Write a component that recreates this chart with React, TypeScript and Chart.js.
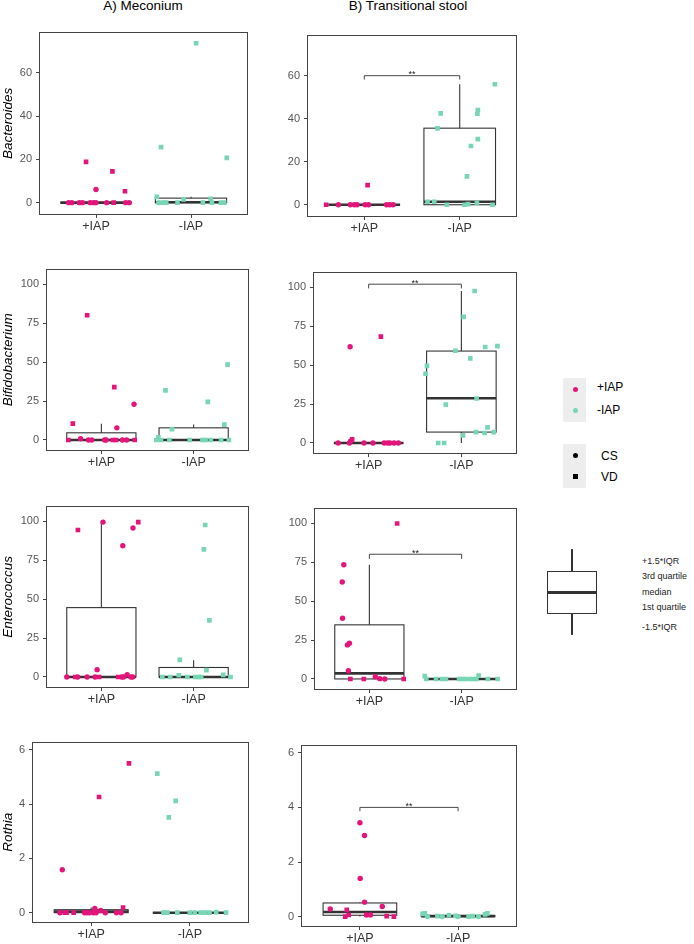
import React, { useEffect, useRef } from "react";
import { Chart, registerables } from "chart.js";
Chart.register(...registerables);

type Pt = [number, number, string];
type Box = [number, number, number, number, number];

const FONT = "'Liberation Sans', Arial, Helvetica, sans-serif";
Chart.defaults.font.family = FONT;

const PINK = "#E3157A";
const TEAL = "#78D6B4";
const LINE = "#333333";
const BOX_HALF = 0.375;

const groupLabels = ["+IAP", "-IAP"];
const columnTitles = ["A) Meconium", "B) Transitional stool"];
const taxa = ["Bacteroides", "Bifidobacterium", "Enterococcus", "Rothia"];

const ticksRow1 = [0, 20, 40, 60];
const ticksRow23 = [0, 25, 50, 75, 100];
const ticksRow4 = [0, 2, 4, 6];

// [jitter offset from group centre, value, shape c=CS s=VD]
const bacMecPlus: Pt[] = [
  [-0.105, 18.9, "s"], [0.173, 14.5, "s"], [0, 6.1, "c"], [0.305, 5.3, "s"],
  [-0.288, 0, "c"], [-0.254, 0, "c"], [-0.176, 0, "c"], [-0.142, 0, "c"], [-0.061, 0, "c"],
  [-0.027, 0, "c"], [0, 0, "c"], [0.112, 0, "c"], [0.186, 0, "s"], [0.312, 0, "c"], [0.349, 0, "c"],
];
const bacMecMinus: Pt[] = [
  [0.054, 73.7, "s"], [-0.315, 25.7, "s"], [0.376, 20.7, "s"], [-0.36, 2.7, "s"], [-0.078, 1.5, "s"],
  [0.207, 1.8, "s"], [-0.339, 0, "c"], [-0.295, 0, "s"], [-0.261, 0, "s"], [-0.142, 0, "s"],
  [0.125, 0, "s"], [0.22, 0, "s"], [0.315, 0, "s"], [0.349, 0, "s"],
];
const bacMecPlusBox: Box = [0, 0, 0, 0, 0];
const bacMecMinusBox: Box = [0, 0, 0.2, 2.1, 2.7];

const bacTransPlus: Pt[] = [
  [0.035, 9.1, "s"], [-0.399, 0, "s"], [-0.271, 0, "c"], [-0.146, 0, "c"], [-0.104, 0, "c"],
  [-0.076, 0, "c"], [0.01, 0, "c"], [0.045, 0, "c"], [0.233, 0, "c"], [0.267, 0, "c"], [0.302, 0, "c"],
];
const bacTransMinus: Pt[] = [
  [0.368, 56, "s"], [-0.2, 42.5, "s"], [0.19, 44, "s"], [0.185, 42.3, "s"], [-0.233, 35.5, "s"],
  [0.19, 30.5, "s"], [0.118, 27.3, "s"], [0.076, 13.2, "s"], [-0.337, 1.4, "s"], [-0.267, 1.4, "s"],
  [-0.135, 0, "s"], [0.05, 0, "s"], [0.087, 0.3, "s"], [0.18, 0.9, "s"], [0.344, 0, "s"],
];
const bacTransPlusBox: Box = [0, 0, 0, 0, 0];
const bacTransMinusBox: Box = [0, 0, 1.4, 35.6, 56];
const bacTransBracket = [60, 58.2];

const bifMecPlus: Pt[] = [
  [-0.154, 80.2, "s"], [0.14, 34, "s"], [0.354, 23, "c"], [-0.309, 10.5, "s"], [0.168, 7.8, "c"],
  [-0.225, 0.8, "c"], [-0.358, 0, "s"], [-0.14, 0, "c"], [-0.105, 0, "c"], [0.035, 0, "c"],
  [0.053, 0, "c"], [0.123, 0, "s"], [0.158, 0, "s"], [0.228, 0, "c"], [0.274, 0, "c"], [0.361, 0, "s"],
];
const bifMecMinus: Pt[] = [
  [0.368, 48.5, "s"], [-0.305, 31.9, "s"], [0.154, 24.5, "s"], [0.333, 9.9, "s"], [-0.235, 7, "s"],
  [-0.382, 1.7, "s"], [-0.404, 0, "s"], [-0.354, 0, "s"], [-0.263, 0, "s"], [-0.042, 0, "s"],
  [0.095, 0, "s"], [0.13, 0, "s"], [0.186, 0, "s"], [0.298, 0, "s"], [0.382, 0, "s"],
];
const bifMecPlusBox: Box = [0, 0, 0, 4.6, 10.5];
const bifMecMinusBox: Box = [0, 0, 0, 7.8, 9.9];

const bifTransPlus: Pt[] = [
  [0.132, 68.4, "s"], [-0.2, 61.9, "c"], [-0.178, 2.3, "s"], [-0.196, 1.1, "c"], [-0.329, 0, "c"],
  [-0.207, 0, "c"], [-0.05, 0, "c"], [0.046, 0, "c"], [0.168, 0, "c"], [0.204, 0, "c"],
  [0.229, 0, "c"], [0.275, 0, "c"], [0.321, 0, "c"],
];
const bifTransMinus: Pt[] = [
  [0.143, 97.7, "s"], [0.025, 81.1, "s"], [0.389, 62.3, "s"], [0.257, 61.7, "s"], [-0.064, 59.3, "s"],
  [0.096, 54.4, "s"], [-0.371, 49.6, "s"], [-0.386, 44.5, "s"], [0.164, 28.6, "s"], [-0.168, 24.6, "s"],
  [0.282, 10, "s"], [0.157, 7, "s"], [0.25, 6.4, "s"], [0.35, 7, "s"], [0.018, 4.9, "s"],
  [-0.25, 0, "s"], [-0.186, 0, "s"],
];
const bifTransPlusBox: Box = [0, 0, 0, 0, 0];
const bifTransMinusBox: Box = [0, 7, 28.8, 59.1, 97.7];
const bifTransBracket = [102.1, 99.4];

const entMecPlus: Pt[] = [
  [0.018, 99.6, "c"], [0.4, 99.6, "s"], [0.343, 95.8, "c"], [-0.254, 94.5, "s"], [0.232, 84.4, "c"],
  [-0.046, 4.7, "c"], [0.279, 1.5, "c"], [-0.375, 0, "c"], [-0.282, 0, "s"], [-0.257, 0, "c"],
  [-0.154, 0, "c"], [-0.068, 0, "c"], [-0.025, 0, "s"], [0.182, 0, "s"], [0.221, 0, "c"],
  [0.239, 0, "c"], [0.321, 0, "c"], [0.339, 0, "c"],
];
const entMecMinus: Pt[] = [
  [0.125, 97.7, "s"], [0.111, 82, "s"], [0.171, 36.4, "s"], [-0.15, 11, "s"], [0.139, 4.4, "s"],
  [0.321, 1.3, "s"], [-0.161, 1.1, "s"], [-0.339, 0, "s"], [-0.254, 0, "s"], [-0.068, 0, "s"],
  [0.018, 0, "s"], [0.054, 0, "s"], [0.082, 0, "s"], [0.4, 0, "s"],
];
const entMecPlusBox: Box = [0, 0, 0, 44.6, 99.6];
const entMecMinusBox: Box = [0, 0, 0, 6.1, 10.8];

const entTransPlus: Pt[] = [
  [0.301, 100, "s"], [-0.277, 73.4, "c"], [-0.294, 62.4, "c"], [-0.291, 39, "c"], [-0.216, 23, "c"],
  [-0.238, 21.9, "c"], [-0.227, 5.3, "c"], [0.064, 1.5, "c"], [-0.206, 0, "s"], [-0.06, 0, "s"],
  [0.113, 0.2, "c"], [0.167, 0, "c"], [0.372, 0, "s"],
];
const entTransMinus: Pt[] = [
  [-0.4, 1.8, "s"], [-0.383, 0, "s"], [-0.277, 0, "s"], [-0.213, 0, "s"], [-0.17, 0, "s"],
  [-0.028, 0, "s"], [0.007, 0, "s"], [0.043, 0, "s"], [0.089, 0, "s"], [0.124, 0, "s"],
  [0.16, 0, "s"], [0.184, 2.1, "s"], [0.284, 0, "s"], [0.39, 0, "s"],
];
const entTransPlusBox: Box = [0, 0, 3.6, 34.8, 73.4];
const entTransMinusBox: Box = [0, 0, 0, 0, 0];
const entTransBracket = [80.2, 77.2];

const rotMecPlus: Pt[] = [
  [0.383, 5.5, "s"], [0.08, 4.26, "s"], [-0.293, 1.58, "c"], [0.323, 0.19, "s"], [0.037, 0.16, "c"],
  [0.097, 0.08, "c"], [-0.317, 0, "c"], [-0.267, 0, "s"], [-0.25, 0, "s"], [-0.177, 0, "s"],
  [-0.067, 0, "c"], [-0.043, 0, "c"], [-0.017, 0, "c"], [0.023, 0, "c"], [0.05, 0, "c"],
  [0.143, 0, "c"], [0.257, 0, "c"], [0.303, 0, "c"],
];
const rotMecMinus: Pt[] = [
  [-0.33, 5.12, "s"], [-0.143, 4.12, "s"], [-0.213, 3.51, "s"], [-0.267, 0, "s"], [-0.227, 0, "s"],
  [-0.127, 0, "s"], [0, 0, "s"], [0.05, 0, "s"], [0.11, 0, "s"], [0.157, 0, "s"], [0.2, 0, "s"],
  [0.267, 0.02, "s"], [0.367, 0, "s"],
];
const rotMecPlusBox: Box = [0, 0, 0.04, 0.11, 0.19];
const rotMecMinusBox: Box = [0, 0, 0, 0, 0];

const rotTransPlus: Pt[] = [
  [0, 3.44, "c"], [0.047, 2.97, "c"], [0.003, 1.4, "c"], [0.047, 0.53, "c"], [0.228, 0.37, "c"],
  [-0.302, 0.28, "c"], [-0.134, 0.25, "s"], [0.067, 0.06, "c"], [0.107, 0.06, "c"], [-0.114, 0.06, "s"],
  [-0.15, 0, "s"], [0.272, 0.02, "s"], [0.346, 0, "s"],
];
const rotTransMinus: Pt[] = [
  [-0.362, 0.1, "s"], [-0.339, 0.12, "s"], [-0.312, 0, "c"], [-0.211, 0.02, "s"], [-0.161, 0, "c"],
  [-0.094, 0.05, "s"], [-0.027, 0.03, "s"], [0, 0, "c"], [0.107, 0, "s"], [0.148, 0.02, "s"],
  [0.208, 0, "c"], [0.275, 0.08, "s"], [0.299, 0.12, "s"],
];
const rotTransPlusBox: Box = [0, 0.05, 0.17, 0.5, 0.53];
const rotTransMinusBox: Box = [0, 0, 0.02, 0.04, 0.1];
const rotTransBracket = [4.0, 3.86];

const legendGroups = ["+IAP", "-IAP"];
const legendModes = ["CS", "VD"];
const boxLegendLabels = ["+1.5*IQR", "3rd quartile", "median", "1st quartile", "-1.5*IQR"];

type PanelCfg = {
  col: number; title: string | null; plus: Pt[]; minus: Pt[]; boxes: Box[];
  ticks: number[]; yMin: number; yMax: number; bracket: number[] | null;
  L: number; R: number; T: number; B: number;
};

const panels: PanelCfg[] = [
  { col: 0, title: taxa[0], plus: bacMecPlus, minus: bacMecMinus, boxes: [bacMecPlusBox, bacMecMinusBox], ticks: ticksRow1, yMin: -5.7, yMax: 79.1, bracket: null, L: 39, R: 250, T: 29, B: 215 },
  { col: 1, title: null, plus: bacTransPlus, minus: bacTransMinus, boxes: [bacTransPlusBox, bacTransMinusBox], ticks: ticksRow1, yMin: -5.7, yMax: 79.1, bracket: bacTransBracket, L: 307, R: 519, T: 32, B: 217 },
  { col: 0, title: taxa[1], plus: bifMecPlus, minus: bifMecMinus, boxes: [bifMecPlusBox, bifMecMinusBox], ticks: ticksRow23, yMin: -7.1, yMax: 110.2, bracket: null, L: 46, R: 251, T: 266, B: 451 },
  { col: 1, title: null, plus: bifTransPlus, minus: bifTransMinus, boxes: [bifTransPlusBox, bifTransMinusBox], ticks: ticksRow23, yMin: -7.1, yMax: 110.2, bracket: bifTransBracket, L: 313, R: 519, T: 269, B: 454 },
  { col: 0, title: taxa[2], plus: entMecPlus, minus: entMecMinus, boxes: [entMecPlusBox, entMecMinusBox], ticks: ticksRow23, yMin: -7.1, yMax: 110.2, bracket: null, L: 46, R: 251, T: 503, B: 688 },
  { col: 1, title: null, plus: entTransPlus, minus: entTransMinus, boxes: [entTransPlusBox, entTransMinusBox], ticks: ticksRow23, yMin: -7.1, yMax: 110.2, bracket: entTransBracket, L: 314, R: 519, T: 505, B: 690 },
  { col: 0, title: taxa[3], plus: rotMecPlus, minus: rotMecMinus, boxes: [rotMecPlusBox, rotMecMinusBox], ticks: ticksRow4, yMin: -0.38, yMax: 6.3, bracket: null, L: 32, R: 251, T: 739, B: 923 },
  { col: 1, title: null, plus: rotTransPlus, minus: rotTransMinus, boxes: [rotTransPlusBox, rotTransMinusBox], ticks: ticksRow4, yMin: -0.38, yMax: 6.3, bracket: rotTransBracket, L: 301, R: 519, T: 742, B: 927 },
];

const PAD_TOP = 8;
const PAD_RIGHT = 2;
const X_AXIS_H = 22;

function makeLayer(boxes: Box[], bracket: number[] | null) {
  return {
    id: "boxLayer",
    beforeDatasetsDraw(chart: any) {
      const { ctx, chartArea: a, scales } = chart;
      const xs = scales.x, ys = scales.y;
      ctx.save();
      ctx.strokeStyle = "#444";
      ctx.lineWidth = 1;
      ctx.strokeRect(Math.round(a.left) + 0.5, Math.round(a.top) + 0.5, Math.round(a.right - a.left) - 1, Math.round(a.bottom - a.top) - 1);
      boxes.forEach((b, i) => {
        const c = i + 1;
        const xl = xs.getPixelForValue(c - BOX_HALF);
        const xr = xs.getPixelForValue(c + BOX_HALF);
        const xc = xs.getPixelForValue(c);
        const [lo, q1, med, q3, hi] = b.map((v) => ys.getPixelForValue(v));
        ctx.strokeStyle = LINE;
        ctx.lineWidth = 1.1;
        ctx.beginPath();
        ctx.moveTo(xc, q3); ctx.lineTo(xc, hi);
        ctx.moveTo(xc, q1); ctx.lineTo(xc, lo);
        ctx.stroke();
        ctx.strokeRect(xl, q3, xr - xl, q1 - q3);
        ctx.lineWidth = 2.6;
        ctx.beginPath();
        ctx.moveTo(xl, med); ctx.lineTo(xr, med);
        ctx.stroke();
      });
      ctx.restore();
    },
    afterDatasetsDraw(chart: any) {
      if (!bracket) return;
      const { ctx, scales } = chart;
      const xs = scales.x, ys = scales.y;
      const x1 = xs.getPixelForValue(1), x2 = xs.getPixelForValue(2);
      const yt = ys.getPixelForValue(bracket[0]), yb = ys.getPixelForValue(bracket[1]);
      ctx.save();
      ctx.strokeStyle = LINE;
      ctx.lineWidth = 0.9;
      ctx.beginPath();
      ctx.moveTo(x1, yb); ctx.lineTo(x1, yt); ctx.lineTo(x2, yt); ctx.lineTo(x2, yb);
      ctx.stroke();
      ctx.fillStyle = "#222";
      ctx.font = `9px ${FONT}`;
      ctx.textAlign = "center";
      ctx.textBaseline = "alphabetic";
      ctx.fillText("**", xs.getPixelForValue(1.5), yt + 1.5);
      ctx.restore();
    },
  };
}

function Panel({ cfg }: { cfg: PanelCfg }) {
  const ref = useRef<HTMLCanvasElement>(null);
  const left = cfg.col === 0 ? 0 : 262;
  const width = cfg.R - left + PAD_RIGHT;
  const top = cfg.T - PAD_TOP;
  const height = cfg.B - cfg.T + PAD_TOP + X_AXIS_H;
  const yw = cfg.L - left;

  useEffect(() => {
    const toData = (pts: Pt[], c: number) => pts.map(([dx, y, s]) => ({ x: c + dx, y, s }));
    const style = (ctx: any) => (ctx.raw && ctx.raw.s === "s" ? "rect" : "circle");
    const radius = (ctx: any) => (ctx.raw && ctx.raw.s === "s" ? 3.3 : 2.7);
    const chart = new Chart(ref.current as HTMLCanvasElement, {
      type: "scatter",
      data: {
        datasets: [
          { data: toData(cfg.plus, 1), backgroundColor: PINK, borderWidth: 0, pointStyle: style as any, pointRadius: radius as any },
          { data: toData(cfg.minus, 2), backgroundColor: TEAL, borderWidth: 0, pointStyle: style as any, pointRadius: radius as any },
        ],
      },
      options: {
        animation: false,
        responsive: false,
        maintainAspectRatio: false,
        events: [],
        layout: { padding: { left: 0, right: PAD_RIGHT, top: PAD_TOP, bottom: 0 } },
        plugins: { legend: { display: false }, tooltip: { enabled: false } },
        scales: {
          x: {
            type: "linear",
            bounds: "data",
            min: 0.4,
            max: 2.6,
            afterBuildTicks: (s: any) => { s.ticks = [{ value: 1 }, { value: 2 }]; },
            afterFit: (s: any) => { s.height = X_AXIS_H; },
            ticks: {
              autoSkip: false,
              maxRotation: 0,
              padding: 1,
              color: "#333",
              font: { size: 12.5, family: FONT },
              callback: (v: any) => groupLabels[Math.round(Number(v)) - 1],
            },
            grid: { drawOnChartArea: false, color: "#444", tickLength: 3 },
            border: { display: false },
          },
          y: {
            type: "linear",
            bounds: "data",
            min: cfg.yMin,
            max: cfg.yMax,
            afterBuildTicks: (s: any) => { s.ticks = cfg.ticks.map((v) => ({ value: v })); },
            afterFit: (s: any) => { s.width = yw; },
            ticks: { padding: 4, color: "#555", font: { size: 11, family: FONT } },
            grid: { drawOnChartArea: false, color: "#444", tickLength: 3 },
            border: { display: false },
            title: {
              display: !!cfg.title,
              text: cfg.title || "",
              color: "#000",
              padding: { top: 0, bottom: 0 },
              font: { size: 13.5, style: "italic", family: FONT },
            },
          },
        },
      } as any,
      plugins: [makeLayer(cfg.boxes, cfg.bracket)],
    });
    return () => chart.destroy();
  }, []);

  return (
    <canvas
      ref={ref}
      width={width}
      height={height}
      style={{ position: "absolute", left, top, width, height }}
    />
  );
}

const txt = (x: number, y: number, s: string, size: number, extra: any = {}) => (
  <div
    key={s + x + y}
    style={{
      position: "absolute", left: x, top: y - 8, height: 16, lineHeight: "16px",
      fontSize: size, whiteSpace: "nowrap", color: "#000", ...extra,
    }}
  >
    {s}
  </div>
);

function Legends() {
  const dot = (x: number, y: number, color: string, square: boolean) => (
    <div
      key={`${x}-${y}-${color}`}
      style={{
        position: "absolute", left: x - 2.5, top: y - 2.5, width: 5, height: 5,
        background: color, borderRadius: square ? 0 : "50%",
      }}
    />
  );
  const boxLabelYs = [561, 576, 592, 607, 627];
  return (
    <>
      <div style={{ position: "absolute", left: 563, top: 378, width: 23, height: 44, background: "#EDEDED" }} />
      {dot(575, 389, PINK, false)}
      {dot(575, 410.5, TEAL, false)}
      {txt(597, 387, legendGroups[0], 12)}
      {txt(597, 409.5, legendGroups[1], 12)}
      <div style={{ position: "absolute", left: 563, top: 444, width: 23, height: 44, background: "#EDEDED" }} />
      {dot(575, 455.5, "#000", false)}
      {dot(575, 476.5, "#000", true)}
      {txt(601, 456, legendModes[0], 12)}
      {txt(601, 477, legendModes[1], 12)}

      <div style={{ position: "absolute", left: 571.3, top: 549, width: 1.4, height: 22, background: LINE }} />
      <div style={{ position: "absolute", left: 547, top: 571, width: 50, height: 43, border: `1.3px solid ${LINE}`, boxSizing: "border-box" }} />
      <div style={{ position: "absolute", left: 547, top: 591, width: 50, height: 2.6, background: LINE }} />
      <div style={{ position: "absolute", left: 571.3, top: 614, width: 1.4, height: 21, background: LINE }} />
      {boxLegendLabels.map((s, i) => txt(642, boxLabelYs[i], s, 9, { color: "#222" }))}
    </>
  );
}

export default function App() {
  return (
    <div
      style={{
        position: "absolute", left: 0, top: 0, width: 694, height: 944,
        background: "#fff", fontFamily: FONT, overflow: "hidden",
      }}
    >
      <div style={{ position: "absolute", left: 43, width: 200, top: -2, textAlign: "center", fontSize: 13.5, lineHeight: "16px" }}>
        {columnTitles[0]}
      </div>
      <div style={{ position: "absolute", left: 308, width: 200, top: -2, textAlign: "center", fontSize: 13.5, lineHeight: "16px" }}>
        {columnTitles[1]}
      </div>
      {panels.map((p, i) => (
        <Panel key={i} cfg={p} />
      ))}
      <Legends />
    </div>
  );
}
